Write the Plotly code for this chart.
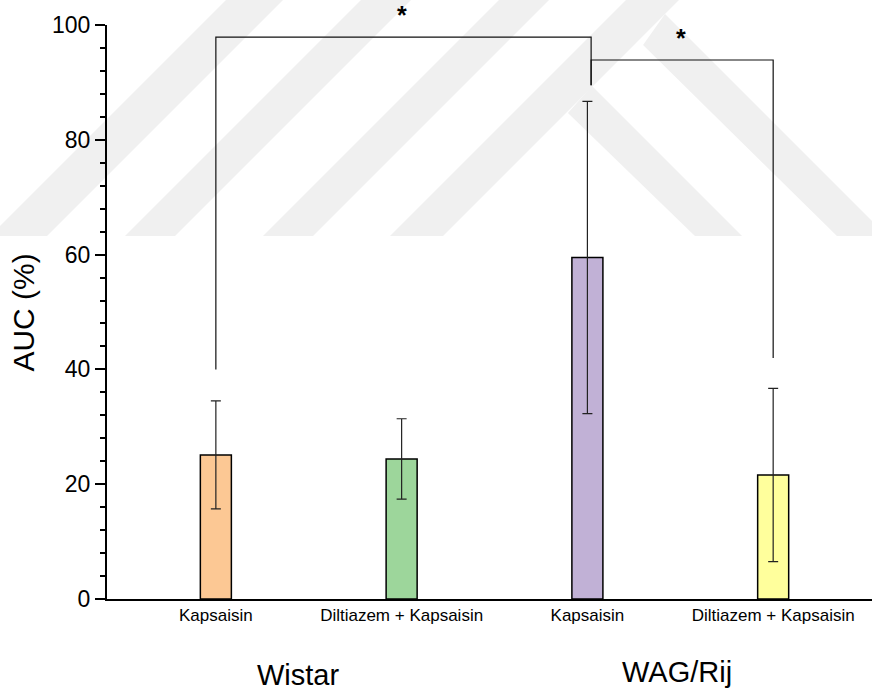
import plotly.graph_objects as go

# ---- data ----
categories = ["Kapsaisin", "Diltiazem + Kapsaisin", "Kapsaisin", "Diltiazem + Kapsaisin"]
auc_mean = [25.1, 24.4, 59.5, 21.6]
auc_err = [9.4, 7.0, 27.2, 15.1]
bar_colors = ["#FCC894", "#9DD69B", "#C1B1D6", "#FFFF9C"]
groups = ["Wistar", "WAG/Rij"]
y_ticks = [0, 20, 40, 60, 80, 100]

# significance brackets (x in category index, y in AUC units)
bracket1_x = [0, 0, 2.02, 2.02]
bracket1_y = [40, 97.9, 97.9, 89.5]
bracket2_x = [2.02, 2.02, 3, 3]
bracket2_y = [89.5, 93.9, 93.9, 42]
star_x = [1.004, 2.504]

xpos = list(range(len(categories)))

W, H = 872, 693
L, R, T, B = 107, 0, 25, 94
PW, PH = W - L - R, H - T - B


def px(x, y):
    return (x - L) / PW, (H - B - y) / PH


def poly(points):
    pts = [px(x, y) for x, y in points]
    return "M " + " L ".join(f"{a:.4f},{b:.4f}" for a, b in pts) + " Z"


# faint background watermark (decorative)
wm_paths = [
    # "/" bands
    [(125, 236), (175, 236), (411, 0), (361, 0)],
    [(263, 236), (313, 236), (549, 0), (499, 0)],
    [(390, 236), (443, 236), (679, 0), (626, 0)],
    [(-10, 236), (47, 236), (283, 0), (226, 0)],
    # "\" branches
    [(568, 113), (592, 86), (742, 236), (695, 236)],
    [(643, 45), (665, 14), (887, 236), (837, 236)],
]

fig = go.Figure()
fig.add_trace(go.Bar(
    x=xpos, y=auc_mean, width=0.167,
    marker=dict(color=bar_colors, line=dict(color="black", width=1.5)),
    error_y=dict(type="data", array=auc_err, visible=True, color="#222222",
                 thickness=1.2, width=5),
    showlegend=False,
))
for bx, by in [(bracket1_x, bracket1_y), (bracket2_x, bracket2_y)]:
    fig.add_trace(go.Scatter(x=bx, y=by, mode="lines",
                             line=dict(color="#111111", width=1.2),
                             showlegend=False, cliponaxis=False, hoverinfo="skip"))

for sx, sy in zip(star_x, [1.0175, 0.977]):
    fig.add_annotation(x=sx, y=sy, xref="x", yref="paper", text="<b>*</b>", showarrow=False,
                       font=dict(size=25, color="black"), yanchor="middle")

fig.add_annotation(x=0.4435, y=-0.1324, xref="x", yref="paper", text=groups[0],
                   showarrow=False, font=dict(size=29, color="black"), yanchor="middle")
fig.add_annotation(x=2.484, y=-0.1272, xref="x", yref="paper", text=groups[1],
                   showarrow=False, font=dict(size=29, color="black"), yanchor="middle")
fig.add_annotation(x=-0.1085, y=0.499, xref="paper", yref="paper", text="AUC (%)",
                   textangle=-90, showarrow=False, font=dict(size=30, color="black"),
                   xanchor="center", yanchor="middle")

shapes = [dict(type="path", path=poly(p), xref="paper", yref="paper",
               fillcolor="#f0f0f0", line=dict(width=0), layer="below")
          for p in wm_paths]

fig.update_layout(
    width=W, height=H,
    margin=dict(l=L, r=R, t=T, b=B),
    plot_bgcolor="rgba(0,0,0,0)", paper_bgcolor="white",
    font=dict(family="Liberation Sans, Arial, sans-serif", color="black"),
    shapes=shapes,
    xaxis=dict(range=[-0.586, 3.532], tickvals=xpos, ticktext=categories,
               tickfont=dict(size=17), showgrid=False, zeroline=False,
               showline=True, linecolor="black", linewidth=2, ticks=""),
    yaxis=dict(range=[0, 100], tickvals=y_ticks, tickfont=dict(size=23),
               showgrid=False, zeroline=False, showline=True, linecolor="black",
               linewidth=2, ticks="outside", ticklen=10, tickwidth=2,
               tickcolor="black",
               minor=dict(dtick=4, ticks="outside", ticklen=5, tickwidth=2,
                          tickcolor="black")),
)

fig.write_html("out.html")
